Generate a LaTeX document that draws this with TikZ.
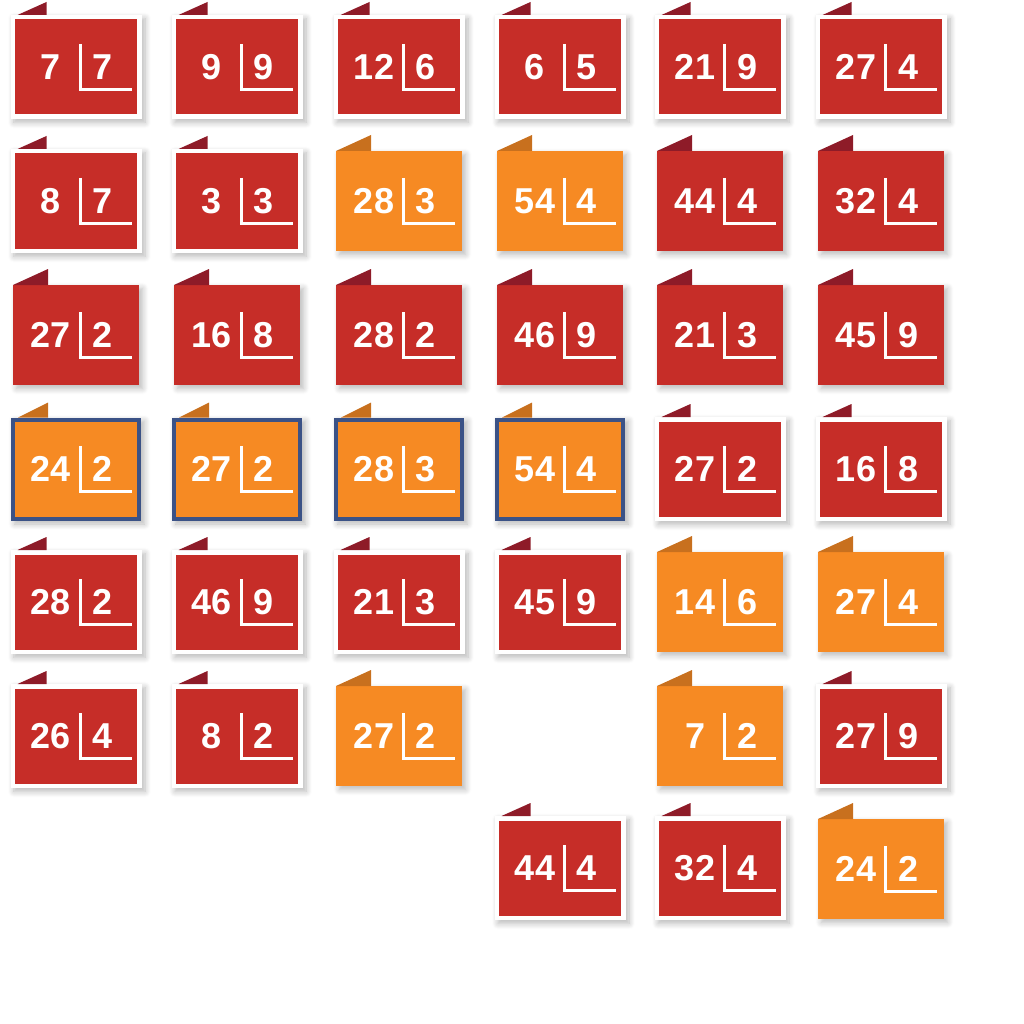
\documentclass[tikz,border=0pt]{standalone}
\usepackage{fontspec}
\setmainfont{Liberation Sans}
\usetikzlibrary{shadows.blur}
\definecolor{cardred}{RGB}{198,45,40}
\definecolor{tabred}{RGB}{142,27,40}
\definecolor{cardorange}{RGB}{246,138,35}
\definecolor{taborange}{RGB}{200,112,30}
\definecolor{cardblue}{RGB}{59,82,134}
\tikzset{
  cardshadow/.style={blur shadow={shadow xshift=3.5pt,shadow yshift=-3.5pt,shadow blur radius=6pt,shadow blur steps=8,shadow opacity=28}},
  numtext/.style={text=white,font=\bfseries\fontsize{36}{36}\selectfont,anchor=base,inner sep=0pt},
  divline/.style={draw=white,line width=3pt}
}
\newcommand\cardtext[4]{% cx cy left right
  \node[numtext] (L-#1-#2) at (#1-25,#2+12.5) {#3};
  \node[numtext] (R-#1-#2) at (#1+27,#2+12.5) {#4};
  \draw[divline] (#1+4,#2-23) -- (#1+4,#2+22.5) -- (#1+56,#2+22.5);
}
\newcommand\plaincard[6]{% cx cy fill tab left right
  \path[fill=#3,cardshadow] (#1-63,#2-50) rectangle (#1+63,#2+50);
  \fill[#4] (#1-63,#2-50) -- (#1-28,#2-66) -- (#1-28,#2-50) -- cycle;
  \cardtext{#1}{#2}{#5}{#6}
}
\newcommand\framecard[4]{% cx cy left right
  \path[fill=white,cardshadow] (#1-65.5,#2-52) rectangle (#1+65.5,#2+52);
  \fill[cardred] (#1-61,#2-47.5) rectangle (#1+61,#2+47.5);
  \fill[tabred] (#1-58.5,#2-52) -- (#1-29.5,#2-65) -- (#1-29.5,#2-52) -- cycle;
  \cardtext{#1}{#2}{#3}{#4}
}
\newcommand\bluecard[4]{% cx cy left right
  \path[fill=cardorange,cardshadow] (#1-65,#2-51.5) rectangle (#1+65,#2+51.5);
  \draw[cardblue,line width=4pt] (#1-63,#2-49.5) rectangle (#1+63,#2+49.5);
  \fill[taborange] (#1-58,#2-51.5) -- (#1-28,#2-66.5) -- (#1-28,#2-51.5) -- cycle;
  \cardtext{#1}{#2}{#3}{#4}
}
\begin{document}
\begin{tikzpicture}[x=1pt,y=-1pt]
\useasboundingbox (0,0) rectangle (1024,1024);
% row 1
\framecard{76}{67}{7}{7}
\framecard{237}{67}{9}{9}
\framecard{399}{67}{12}{6}
\framecard{560}{67}{6}{5}
\framecard{720}{67}{21}{9}
\framecard{881}{67}{27}{4}
% row 2
\framecard{76}{201}{8}{7}
\framecard{237}{201}{3}{3}
\plaincard{399}{201}{cardorange}{taborange}{28}{3}
\plaincard{560}{201}{cardorange}{taborange}{54}{4}
\plaincard{720}{201}{cardred}{tabred}{44}{4}
\plaincard{881}{201}{cardred}{tabred}{32}{4}
% row 3
\plaincard{76}{335}{cardred}{tabred}{27}{2}
\plaincard{237}{335}{cardred}{tabred}{16}{8}
\plaincard{399}{335}{cardred}{tabred}{28}{2}
\plaincard{560}{335}{cardred}{tabred}{46}{9}
\plaincard{720}{335}{cardred}{tabred}{21}{3}
\plaincard{881}{335}{cardred}{tabred}{45}{9}
% row 4
\bluecard{76}{469}{24}{2}
\bluecard{237}{469}{27}{2}
\bluecard{399}{469}{28}{3}
\bluecard{560}{469}{54}{4}
\framecard{720}{469}{27}{2}
\framecard{881}{469}{16}{8}
% row 5
\framecard{76}{602}{28}{2}
\framecard{237}{602}{46}{9}
\framecard{399}{602}{21}{3}
\framecard{560}{602}{45}{9}
\plaincard{720}{602}{cardorange}{taborange}{14}{6}
\plaincard{881}{602}{cardorange}{taborange}{27}{4}
% row 6
\framecard{76}{736}{26}{4}
\framecard{237}{736}{8}{2}
\plaincard{399}{736}{cardorange}{taborange}{27}{2}
\plaincard{720}{736}{cardorange}{taborange}{7}{2}
\framecard{881}{736}{27}{9}
% row 7
\framecard{560}{868}{44}{4}
\framecard{720}{868}{32}{4}
\plaincard{881}{869}{cardorange}{taborange}{24}{2}
\end{tikzpicture}
\end{document}
